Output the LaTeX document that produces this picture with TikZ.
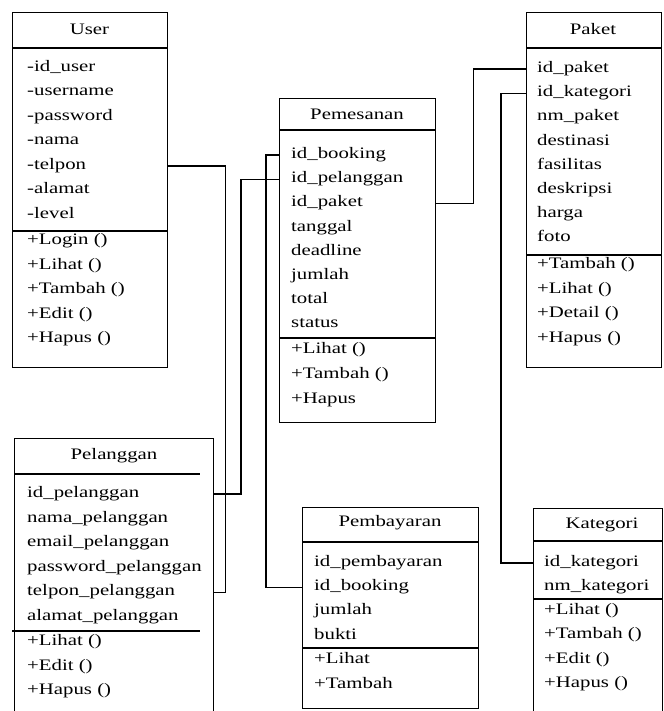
\documentclass[tikz,border=0pt]{standalone}
\usepackage{fontspec}
\setmainfont{Liberation Serif}[FakeStretch=1.3]
\usepackage{tikz}

\tikzset{
  classbox/.style={draw, line width=1.2pt, anchor=north west, inner sep=0pt},
  title/.style={font=\fontsize{16}{19}\selectfont, inner sep=0pt},
  item/.style={anchor=west, font=\fontsize{16}{19}\selectfont, inner sep=0pt,
    text height=11pt, text depth=4pt},
  link/.style={line width=1.2pt},
}

\begin{document}
\begin{tikzpicture}[x=1pt,y=-1pt]
            \useasboundingbox (0,0) rectangle (663,711);
            \clip (0,0) rectangle (663,711);

            % User
            \node[classbox, minimum width=155pt, minimum height=355pt] (user) at (12,12) {};
            \draw[link] ([yshift=-36pt]user.north west) -- ([yshift=-36pt]user.north east);
            \draw[link] ([yshift=-219pt]user.north west) -- ([yshift=-219pt]user.north east);
            \node[title] (usert) at (89.5,29) {User};
            \foreach \a [count=\i from 0] in {-id\_user,-username,-password,-nama,-telpon,-alamat,-level}
                \node[item] (ua\i) at (27,68+24.5*\i) {\a};
            \foreach \a [count=\i from 0] in {+Login (),+Lihat (),+Tambah (),+Edit (),+Hapus ()}
                \node[item] (um\i) at (27,241+24.5*\i) {\a};

            % Pemesanan
            \node[classbox, minimum width=156pt, minimum height=324pt] (pemesanan) at (279,98) {};
            \draw[link] ([yshift=-32pt]pemesanan.north west) -- ([yshift=-32pt]pemesanan.north east);
            \draw[link] ([yshift=-240pt]pemesanan.north west) -- ([yshift=-240pt]pemesanan.north east);
            \node[title] (pmt) at (357,114) {Pemesanan};
            \foreach \a [count=\i from 0] in {id\_booking,id\_pelanggan,id\_paket,tanggal,deadline,jumlah,total,status}
                \node[item] (pma\i) at (291,155+24.2*\i) {\a};
            \foreach \a [count=\i from 0] in {+Lihat (),+Tambah (),+Hapus}
                \node[item] (pmm\i) at (291,350+25*\i) {\a};

            % Paket
            \node[classbox, minimum width=135pt, minimum height=355pt] (paket) at (526,12) {};
            \draw[link] ([yshift=-36pt]paket.north west) -- ([yshift=-36pt]paket.north east);
            \draw[link] ([yshift=-243pt]paket.north west) -- ([yshift=-243pt]paket.north east);
            \node[title] (pkt) at (593,29) {Paket};
            \foreach \a [count=\i from 0] in {id\_paket,id\_kategori,nm\_paket,destinasi,fasilitas,deskripsi,harga,foto}
                \node[item] (pka\i) at (537,69+24.2*\i) {\a};
            \foreach \a [count=\i from 0] in {+Tambah (),+Lihat (),+Detail (),+Hapus ()}
                \node[item] (pkm\i) at (537,265+24.5*\i) {\a};

            % Pelanggan
            \node[classbox, minimum width=199pt, minimum height=300pt] (pelanggan) at (14,438) {};
            \draw[link] ([yshift=-36pt]pelanggan.north west) -- ++(186,0);
            \draw[link] ([xshift=-2pt,yshift=-193pt]pelanggan.north west) -- ++(188,0);
            \node[title] (plt) at (114,456) {Pelanggan};
            \foreach \a [count=\i from 0] in {id\_pelanggan,nama\_pelanggan,email\_pelanggan,password\_pelanggan,telpon\_pelanggan,alamat\_pelanggan}
                \node[item] (pla\i) at (27,494+24.6*\i) {\a};
            \foreach \a [count=\i from 0] in {+Lihat (),+Edit (),+Hapus ()}
                \node[item] (plm\i) at (27,642+24.5*\i) {\a};

            % Pembayaran
            \node[classbox, minimum width=176pt, minimum height=201pt] (pembayaran) at (302,507) {};
            \draw[link] ([yshift=-35pt]pembayaran.north west) -- ([yshift=-35pt]pembayaran.north east);
            \draw[link] ([yshift=-141pt]pembayaran.north west) -- ([yshift=-141pt]pembayaran.north east);
            \node[title] (pbt) at (390,523) {Pembayaran};
            \foreach \a [count=\i from 0] in {id\_pembayaran,id\_booking,jumlah,bukti}
                \node[item] (pba\i) at (314,563+24.2*\i) {\a};
            \foreach \a [count=\i from 0] in {+Lihat,+Tambah}
                \node[item] (pbm\i) at (314,660+25*\i) {\a};

            % Kategori
            \node[classbox, minimum width=129pt, minimum height=220pt] (kategori) at (533,508) {};
            \draw[link] ([yshift=-33pt]kategori.north west) -- ([yshift=-33pt]kategori.north east);
            \draw[link] ([yshift=-91pt]kategori.north west) -- ([yshift=-91pt]kategori.north east);
            \node[title] (ktt) at (602,525) {Kategori};
            \foreach \a [count=\i from 0] in {id\_kategori,nm\_kategori}
                \node[item] (kta\i) at (544,563+24*\i) {\a};
            \foreach \a [count=\i from 0] in {+Lihat (),+Tambah (),+Edit (),+Hapus ()}
                \node[item] (ktm\i) at (544,611+24.4*\i) {\a};

            % relasi
            \draw[link] (user.east |- ua4) -- ++(57,0) |- (pelanggan.east |- pla4);
            \draw[link] (pemesanan.west |- pma1) -- ++(-38,0) |- (pelanggan.east |- pla0);
            \draw[link] (pemesanan.west |- pma0) -- ++(-13,0) |- (pembayaran.west |- pba1);
            \draw[link] (pemesanan.east |- pma2) -- ++(37,0) |- (paket.west |- pka0);
            \draw[link] (paket.west |- pka1) -- ++(-25,0) |- (kategori.west |- kta0);
        \end{tikzpicture}
\end{document}
